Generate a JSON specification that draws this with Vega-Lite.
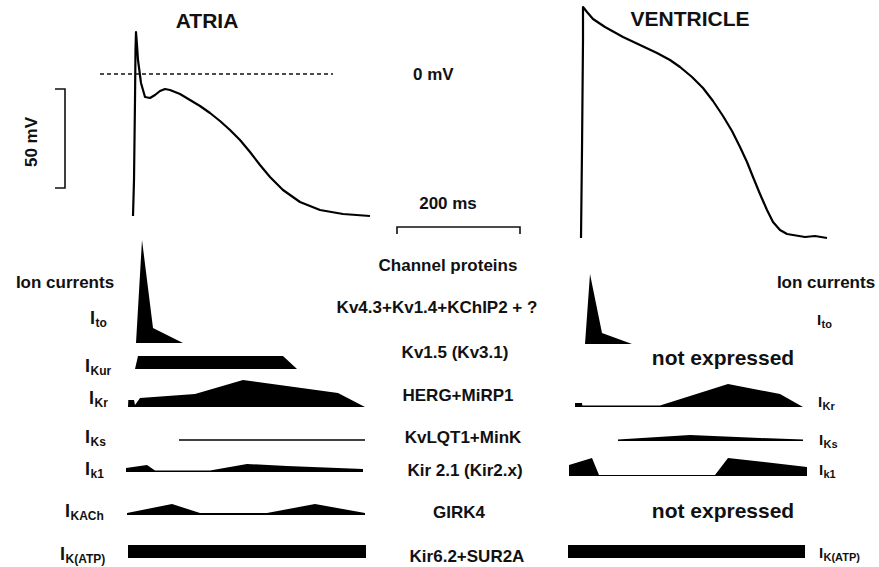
{
  "$schema": "https://vega.github.io/schema/vega-lite/v6.json",
  "width": 879,
  "height": 567,
  "autosize": {"type": "fit", "contains": "padding"},
  "padding": 0,
  "background": "white",
  "config": {"view": {"stroke": null}, "text": {"font": "Liberation Sans", "fontWeight": "bold", "color": "#111"}},
  "datasets": {
    "lines": [
      {"g": "atria", "i": 1, "x": 133, "y": 216}, {"g": "atria", "i": 2, "x": 134, "y": 180}, {"g": "atria", "i": 3, "x": 135, "y": 100},
      {"g": "atria", "i": 4, "x": 135.5, "y": 50}, {"g": "atria", "i": 5, "x": 136, "y": 32}, {"g": "atria", "i": 6, "x": 137, "y": 45},
      {"g": "atria", "i": 7, "x": 138, "y": 60}, {"g": "atria", "i": 8, "x": 141, "y": 83}, {"g": "atria", "i": 9, "x": 145, "y": 97},
      {"g": "atria", "i": 10, "x": 150, "y": 98}, {"g": "atria", "i": 11, "x": 155, "y": 95}, {"g": "atria", "i": 12, "x": 160, "y": 91},
      {"g": "atria", "i": 13, "x": 165, "y": 89}, {"g": "atria", "i": 14, "x": 170, "y": 90}, {"g": "atria", "i": 15, "x": 180, "y": 94},
      {"g": "atria", "i": 16, "x": 190, "y": 100}, {"g": "atria", "i": 17, "x": 200, "y": 106}, {"g": "atria", "i": 18, "x": 210, "y": 113},
      {"g": "atria", "i": 19, "x": 220, "y": 121}, {"g": "atria", "i": 20, "x": 230, "y": 130}, {"g": "atria", "i": 21, "x": 240, "y": 140},
      {"g": "atria", "i": 22, "x": 250, "y": 152}, {"g": "atria", "i": 23, "x": 260, "y": 165}, {"g": "atria", "i": 24, "x": 270, "y": 177},
      {"g": "atria", "i": 25, "x": 283, "y": 190}, {"g": "atria", "i": 26, "x": 300, "y": 202}, {"g": "atria", "i": 27, "x": 320, "y": 210},
      {"g": "atria", "i": 28, "x": 343, "y": 214}, {"g": "atria", "i": 29, "x": 370, "y": 216},
      {"g": "vent", "i": 1, "x": 581, "y": 238}, {"g": "vent", "i": 2, "x": 582, "y": 150}, {"g": "vent", "i": 3, "x": 583, "y": 40},
      {"g": "vent", "i": 4, "x": 583, "y": 7}, {"g": "vent", "i": 5, "x": 587, "y": 12}, {"g": "vent", "i": 6, "x": 593, "y": 19},
      {"g": "vent", "i": 7, "x": 605, "y": 27}, {"g": "vent", "i": 8, "x": 623, "y": 37}, {"g": "vent", "i": 9, "x": 640, "y": 45},
      {"g": "vent", "i": 10, "x": 657, "y": 53}, {"g": "vent", "i": 11, "x": 670, "y": 60}, {"g": "vent", "i": 12, "x": 680, "y": 67},
      {"g": "vent", "i": 13, "x": 692, "y": 77}, {"g": "vent", "i": 14, "x": 703, "y": 88}, {"g": "vent", "i": 15, "x": 713, "y": 101},
      {"g": "vent", "i": 16, "x": 723, "y": 116}, {"g": "vent", "i": 17, "x": 732, "y": 131}, {"g": "vent", "i": 18, "x": 740, "y": 147},
      {"g": "vent", "i": 19, "x": 747, "y": 162}, {"g": "vent", "i": 20, "x": 753, "y": 177}, {"g": "vent", "i": 21, "x": 760, "y": 194},
      {"g": "vent", "i": 22, "x": 767, "y": 210}, {"g": "vent", "i": 23, "x": 773, "y": 222}, {"g": "vent", "i": 24, "x": 780, "y": 230},
      {"g": "vent", "i": 25, "x": 787, "y": 234}, {"g": "vent", "i": 26, "x": 793, "y": 235}, {"g": "vent", "i": 27, "x": 805, "y": 237},
      {"g": "vent", "i": 28, "x": 815, "y": 236}, {"g": "vent", "i": 29, "x": 827, "y": 238},
      {"g": "mv", "i": 1, "x": 55, "y": 89}, {"g": "mv", "i": 2, "x": 65, "y": 89}, {"g": "mv", "i": 3, "x": 65, "y": 188}, {"g": "mv", "i": 4, "x": 55, "y": 188},
      {"g": "ms", "i": 1, "x": 397, "y": 234}, {"g": "ms", "i": 2, "x": 397, "y": 227}, {"g": "ms", "i": 3, "x": 520, "y": 227}, {"g": "ms", "i": 4, "x": 520, "y": 234},
      {"g": "zero", "i": 1, "x": 100, "y": 74}, {"g": "zero", "i": 2, "x": 333, "y": 74}
    ],
    "areas": [
      {"g": "ito_a", "i": 1, "x": 136, "y": 343, "b": 343}, {"g": "ito_a", "i": 2, "x": 142, "y": 240, "b": 343},
      {"g": "ito_a", "i": 3, "x": 153, "y": 328, "b": 343}, {"g": "ito_a", "i": 4, "x": 183, "y": 343, "b": 343},
      {"g": "kur_a", "i": 1, "x": 135, "y": 369, "b": 369}, {"g": "kur_a", "i": 2, "x": 138, "y": 356, "b": 369},
      {"g": "kur_a", "i": 3, "x": 283, "y": 356, "b": 369}, {"g": "kur_a", "i": 4, "x": 297, "y": 369, "b": 369},
      {"g": "kr_a", "i": 1, "x": 128, "y": 407, "b": 407}, {"g": "kr_a", "i": 2, "x": 128.3, "y": 400, "b": 407},
      {"g": "kr_a", "i": 3, "x": 134, "y": 400, "b": 407}, {"g": "kr_a", "i": 4, "x": 135, "y": 405, "b": 407},
      {"g": "kr_a", "i": 5, "x": 140, "y": 398, "b": 407}, {"g": "kr_a", "i": 6, "x": 195, "y": 394, "b": 407},
      {"g": "kr_a", "i": 7, "x": 243, "y": 380, "b": 407}, {"g": "kr_a", "i": 8, "x": 338, "y": 393, "b": 407},
      {"g": "kr_a", "i": 9, "x": 365, "y": 407, "b": 407},
      {"g": "ks_a", "i": 1, "x": 179, "y": 439.2, "b": 440.8}, {"g": "ks_a", "i": 2, "x": 365, "y": 439.2, "b": 440.8},
      {"g": "k1_a", "i": 1, "x": 126, "y": 468, "b": 472}, {"g": "k1_a", "i": 2, "x": 147, "y": 465, "b": 472},
      {"g": "k1_a", "i": 3, "x": 155, "y": 470.5, "b": 472}, {"g": "k1_a", "i": 4, "x": 210, "y": 470.5, "b": 472},
      {"g": "k1_a", "i": 5, "x": 247, "y": 464, "b": 472}, {"g": "k1_a", "i": 6, "x": 287, "y": 466, "b": 472},
      {"g": "k1_a", "i": 7, "x": 363, "y": 469, "b": 472},
      {"g": "kach_a", "i": 1, "x": 127, "y": 513, "b": 515}, {"g": "kach_a", "i": 2, "x": 172, "y": 504, "b": 515},
      {"g": "kach_a", "i": 3, "x": 200, "y": 513, "b": 515}, {"g": "kach_a", "i": 4, "x": 267, "y": 513, "b": 515},
      {"g": "kach_a", "i": 5, "x": 315, "y": 504, "b": 515}, {"g": "kach_a", "i": 6, "x": 365, "y": 513, "b": 515},
      {"g": "katp_a", "i": 1, "x": 128, "y": 545, "b": 558}, {"g": "katp_a", "i": 2, "x": 366, "y": 545, "b": 558},
      {"g": "ito_v", "i": 1, "x": 585, "y": 344, "b": 344}, {"g": "ito_v", "i": 2, "x": 590, "y": 274, "b": 344},
      {"g": "ito_v", "i": 3, "x": 602, "y": 333, "b": 344}, {"g": "ito_v", "i": 4, "x": 632, "y": 344, "b": 344},
      {"g": "kr_v", "i": 1, "x": 575, "y": 403, "b": 407}, {"g": "kr_v", "i": 2, "x": 582, "y": 403, "b": 407},
      {"g": "kr_v", "i": 3, "x": 582.3, "y": 405.5, "b": 407}, {"g": "kr_v", "i": 4, "x": 660, "y": 405.5, "b": 407},
      {"g": "kr_v", "i": 5, "x": 728, "y": 384, "b": 407}, {"g": "kr_v", "i": 6, "x": 780, "y": 394, "b": 407},
      {"g": "kr_v", "i": 7, "x": 803, "y": 407, "b": 407},
      {"g": "ks_v", "i": 1, "x": 618, "y": 439.5, "b": 441}, {"g": "ks_v", "i": 2, "x": 690, "y": 435, "b": 441},
      {"g": "ks_v", "i": 3, "x": 760, "y": 438, "b": 441}, {"g": "ks_v", "i": 4, "x": 803, "y": 439.5, "b": 441},
      {"g": "k1_v", "i": 1, "x": 569, "y": 465, "b": 476}, {"g": "k1_v", "i": 2, "x": 592, "y": 458, "b": 476},
      {"g": "k1_v", "i": 3, "x": 599, "y": 475, "b": 476}, {"g": "k1_v", "i": 4, "x": 715, "y": 475, "b": 476},
      {"g": "k1_v", "i": 5, "x": 728, "y": 458, "b": 476}, {"g": "k1_v", "i": 6, "x": 807, "y": 467, "b": 476},
      {"g": "katp_v", "i": 1, "x": 568, "y": 545, "b": 558}, {"g": "katp_v", "i": 2, "x": 805, "y": 545, "b": 558}
    ],
    "texts": [
      {"kind": "title", "t": "ATRIA", "x": 207, "y": 22},
      {"kind": "title", "t": "VENTRICLE", "x": 690, "y": 20},
      {"kind": "big", "t": "not expressed", "x": 723, "y": 359},
      {"kind": "big", "t": "not expressed", "x": 723, "y": 512},
      {"kind": "mid", "t": "200 ms", "x": 448, "y": 204},
      {"kind": "mid", "t": "Channel proteins", "x": 448, "y": 266},
      {"kind": "mid", "t": "Kv4.3+Kv1.4+KChIP2 + ?", "x": 437, "y": 308},
      {"kind": "mid", "t": "Kv1.5 (Kv3.1)", "x": 455, "y": 353},
      {"kind": "mid", "t": "HERG+MiRP1", "x": 458, "y": 396},
      {"kind": "mid", "t": "KvLQT1+MinK", "x": 463, "y": 438},
      {"kind": "mid", "t": "Kir 2.1 (Kir2.x)", "x": 465, "y": 471},
      {"kind": "mid", "t": "GIRK4", "x": 459, "y": 513},
      {"kind": "mid", "t": "Kir6.2+SUR2A", "x": 467, "y": 557},
      {"kind": "mid", "t": "Ion currents", "x": 65, "y": 283},
      {"kind": "mid", "t": "Ion currents", "x": 826, "y": 283},
      {"kind": "left", "t": "0 mV", "x": 413, "y": 75},
      {"kind": "rot", "t": "50 mV", "x": 32, "y": 142}
    ],
    "ilabels": [
      {"side": "L", "sub": "to", "x": 90, "y": 324},
      {"side": "L", "sub": "Kur", "x": 85, "y": 372},
      {"side": "L", "sub": "Kr", "x": 89, "y": 404},
      {"side": "L", "sub": "Ks", "x": 85, "y": 443},
      {"side": "L", "sub": "k1", "x": 85, "y": 475},
      {"side": "L", "sub": "KACh", "x": 65, "y": 517},
      {"side": "L", "sub": "K(ATP)", "x": 60, "y": 560},
      {"side": "R", "sub": "to", "x": 817, "y": 325},
      {"side": "R", "sub": "Kr", "x": 818, "y": 407},
      {"side": "R", "sub": "Ks", "x": 819, "y": 445},
      {"side": "R", "sub": "k1", "x": 819, "y": 475},
      {"side": "R", "sub": "K(ATP)", "x": 819, "y": 558}
    ]
  },
  "encoding": {
    "x": {"field": "x", "type": "quantitative", "scale": {"domain": [0, 879], "nice": false, "zero": false}, "axis": null},
    "y": {"field": "y", "type": "quantitative", "scale": {"domain": [0, 567], "nice": false, "zero": false, "reverse": true}, "axis": null}
  },
  "layer": [
    {
      "data": {"name": "areas"},
      "mark": {"type": "area", "color": "#000", "interpolate": "linear"},
      "encoding": {
        "y": {"field": "y", "type": "quantitative", "stack": null, "scale": {"domain": [0, 567], "nice": false, "zero": false, "reverse": true}, "axis": null},
        "y2": {"field": "b"},
        "detail": {"field": "g"}
      }
    },
    {
      "data": {"name": "lines"},
      "transform": [{"filter": "datum.g === 'atria' || datum.g === 'vent'"}],
      "mark": {"type": "line", "color": "#000", "strokeWidth": 2.2, "strokeJoin": "round"},
      "encoding": {"detail": {"field": "g"}, "order": {"field": "i", "type": "quantitative"}}
    },
    {
      "data": {"name": "lines"},
      "transform": [{"filter": "datum.g === 'mv' || datum.g === 'ms'"}],
      "mark": {"type": "line", "color": "#111", "strokeWidth": 1.6},
      "encoding": {"detail": {"field": "g"}, "order": {"field": "i", "type": "quantitative"}}
    },
    {
      "data": {"name": "lines"},
      "transform": [{"filter": "datum.g === 'zero'"}],
      "mark": {"type": "line", "color": "#111", "strokeWidth": 1.3, "strokeDash": [4, 3]},
      "encoding": {"detail": {"field": "g"}, "order": {"field": "i", "type": "quantitative"}}
    },
    {
      "data": {"name": "texts"},
      "transform": [{"filter": "datum.kind === 'title'"}],
      "mark": {"type": "text", "fontSize": 21, "align": "center", "baseline": "middle"},
      "encoding": {"text": {"field": "t"}}
    },
    {
      "data": {"name": "texts"},
      "transform": [{"filter": "datum.kind === 'big'"}],
      "mark": {"type": "text", "fontSize": 21, "align": "center", "baseline": "middle"},
      "encoding": {"text": {"field": "t"}}
    },
    {
      "data": {"name": "texts"},
      "transform": [{"filter": "datum.kind === 'mid'"}],
      "mark": {"type": "text", "fontSize": 17, "align": "center", "baseline": "middle"},
      "encoding": {"text": {"field": "t"}}
    },
    {
      "data": {"name": "texts"},
      "transform": [{"filter": "datum.kind === 'left'"}],
      "mark": {"type": "text", "fontSize": 17, "align": "left", "baseline": "middle"},
      "encoding": {"text": {"field": "t"}}
    },
    {
      "data": {"name": "texts"},
      "transform": [{"filter": "datum.kind === 'rot'"}],
      "mark": {"type": "text", "fontSize": 17, "align": "center", "baseline": "middle", "angle": 270},
      "encoding": {"text": {"field": "t"}}
    },
    {
      "data": {"name": "ilabels"},
      "transform": [{"filter": "datum.side === 'L'"}],
      "mark": {"type": "text", "fontSize": 18, "align": "left", "baseline": "alphabetic", "text": "I"},
      "encoding": {}
    },
    {
      "data": {"name": "ilabels"},
      "transform": [{"filter": "datum.side === 'L'"}],
      "mark": {"type": "text", "fontSize": 12, "align": "left", "baseline": "alphabetic", "dx": 5.5, "dy": 3},
      "encoding": {"text": {"field": "sub"}}
    },
    {
      "data": {"name": "ilabels"},
      "transform": [{"filter": "datum.side === 'R'"}],
      "mark": {"type": "text", "fontSize": 15, "align": "left", "baseline": "alphabetic", "text": "I"},
      "encoding": {}
    },
    {
      "data": {"name": "ilabels"},
      "transform": [{"filter": "datum.side === 'R'"}],
      "mark": {"type": "text", "fontSize": 11, "align": "left", "baseline": "alphabetic", "dx": 4.5, "dy": 3},
      "encoding": {"text": {"field": "sub"}}
    }
  ]
}
